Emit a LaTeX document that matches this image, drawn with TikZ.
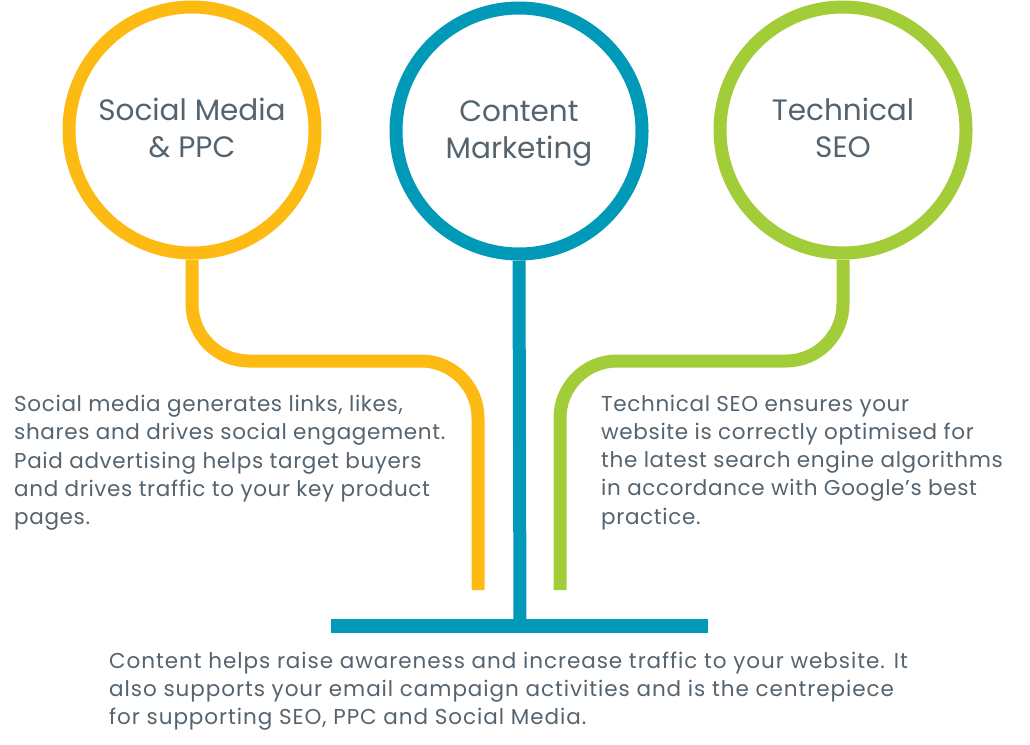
\documentclass[tikz,border=0pt]{standalone}
\usepackage{fontspec}
\setmainfont{Poppins}[LetterSpace=3]
\newfontfamily\titlefont{Poppins}
\newfontfamily\bottomfont{Poppins}[LetterSpace=4.4]
\definecolor{yel}{HTML}{FDBA12}
\definecolor{blu}{HTML}{0099B8}
\definecolor{grn}{HTML}{A3CC39}
\definecolor{txt}{HTML}{55636E}
\newcommand{\topstrut}{\rule{0pt}{29pt}}
\begin{document}
\begin{tikzpicture}[x=1pt,y=-1pt,
  ring/.style={circle, draw, line width=13pt, minimum size=246pt, inner sep=0pt, text=txt, align=center, font=\titlefont\fontsize{29.5}{36.5}\selectfont},
  pipe/.style={line width=13pt},
  body/.style={anchor=north west, inner sep=0pt, text=txt, align=left, font=\fontsize{21.5}{28.3}\selectfont}]
\useasboundingbox (0,0) rectangle (1030,744);
\node[ring, draw=yel] (c1) at (192,130) {\topstrut Social Media\\\& PPC\strut};
\node[ring, draw=blu] (c2) at (519,131) {\topstrut Content\\Marketing\strut};
\node[ring, draw=grn] (c3) at (843,130) {\topstrut Technical\\SEO\strut};
\coordinate (yend) at (478,590);
\coordinate (gend) at (560,590);
\coordinate (barl) at (331,626);
\coordinate (barr) at (708,626);
\coordinate (barm) at (520,626);
\draw[pipe, draw=yel, rounded corners=57pt] (c1.south) -- (192,361) -- (478,361) -- (yend);
\draw[pipe, draw=grn, rounded corners=57pt] (c3.south) -- (843,361) -- (560,361) -- (gend);
\draw[pipe, draw=blu] (c2.south) -- (barm);
\draw[line width=14pt, draw=blu] (barl) -- (barr);
\node[body] (t1) at (14,395) {Social media generates links, likes,\\shares and drives social engagement.\\Paid advertising helps target buyers\\and drives traffic to your key product\\pages.};
\node[body] (t3) at (601,394.5) {Technical SEO ensures your\\website is correctly optimised for\\the latest search engine algorithms\\in accordance with Google’s best\\practice.};
\node[body, font=\bottomfont\fontsize{21.5}{28}\selectfont] (t2) at (109,651.5) {Content helps raise awareness and increase traffic to your website. It\\also supports your email campaign activities and is the centrepiece\\for supporting SEO, PPC and Social Media.};
\end{tikzpicture}
\end{document}
